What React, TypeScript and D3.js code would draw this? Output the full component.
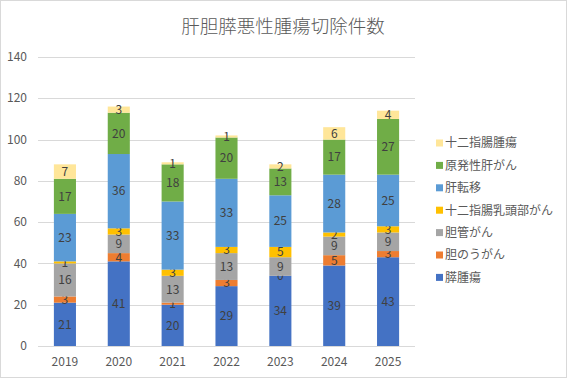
import React from 'react';
import * as d3 from 'd3';

const years = ['2019', '2020', '2021', '2022', '2023', '2024', '2025'];

// stacked bottom to top
const seriesNames = ['膵腫瘍', '胆のうがん', '胆管がん', '十二指腸乳頭部がん', '肝転移', '原発性肝がん', '十二指腸腫瘍'];
const seriesColors = ['#4472C4', '#ED7D31', '#A5A5A5', '#FFC000', '#5B9BD5', '#70AD47', '#FFE699'];

const pancreas = [21, 41, 20, 29, 34, 39, 43];
const gallbladder = [3, 4, 1, 3, 0, 5, 3];
const bileDuct = [16, 9, 13, 13, 9, 9, 9];
const papilla = [1, 3, 3, 3, 5, 2, 3];
const liverMeta = [23, 36, 33, 33, 25, 28, 25];
const primaryLiver = [17, 20, 18, 20, 13, 17, 27];
const duodenal = [7, 3, 1, 1, 2, 6, 4];

const yTicks = [0, 20, 40, 60, 80, 100, 120, 140];

const W = 567;
const H = 378;
const FONT = "'Noto Sans CJK JP', 'Noto Sans', sans-serif";

export default function App() {
  const seriesValues = [pancreas, gallbladder, bileDuct, papilla, liverMeta, primaryLiver, duodenal];

  const rows = years.map((yr, i) => {
    const r: any = { year: yr };
    seriesNames.forEach((s, k) => { r[s] = seriesValues[k][i]; });
    return r;
  });

  const stacked = d3.stack().keys(seriesNames)(rows);

  const x = d3.scaleBand().domain(years).range([38, 415]).paddingInner(0.59).paddingOuter(0.295);
  const y = d3.scaleLinear().domain([0, 140]).range([346, 57]);

  const legendOrder = [...seriesNames].reverse();

  return (
    <svg width={W} height={H} style={{ position: 'absolute', left: 0, top: 0 }} fontFamily={FONT}>
      <rect x={0.5} y={0.5} width={W - 1} height={H - 1} fill="#fff" stroke="#D9D9D9" />
      <text x={283} y={33} textAnchor="middle" fontSize={18.5} fill="#595959" fontWeight={300}>
        肝胆膵悪性腫瘍切除件数
      </text>

      {yTicks.map(t => (
        <g key={t}>
          <line x1={38} x2={415} y1={Math.round(y(t)) + 0.5} y2={Math.round(y(t)) + 0.5} stroke="#D9D9D9" />
          <text x={27} y={y(t)} dy="0.35em" textAnchor="end" fontSize={12} fill="#595959">{t}</text>
        </g>
      ))}

      {stacked.map((layer, k) => (
        <g key={seriesNames[k]}>
          {layer.map((d, i) => {
            const x0 = x(years[i]) as number;
            const top = y(d[1]);
            const bot = y(d[0]);
            const mid = (top + bot) / 2;
            return (
              <g key={years[i]}>
                <rect x={x0} y={top} width={x.bandwidth()} height={bot - top} fill={seriesColors[k]} />
                <text x={x0 + x.bandwidth() / 2} y={mid} dy="0.36em" textAnchor="middle" fontSize={12} fill="#404040">
                  {d[1] - d[0]}
                </text>
              </g>
            );
          })}
        </g>
      ))}

      {years.map(yr => (
        <text key={yr} x={(x(yr) as number) + x.bandwidth() / 2} y={362} dy="0.35em" textAnchor="middle" fontSize={12} fill="#595959">
          {yr}
        </text>
      ))}

      {legendOrder.map((name, i) => {
        const k = seriesNames.indexOf(name);
        const cy = 143 + i * 22.4;
        return (
          <g key={name}>
            <rect x={436} y={cy - 3.5} width={7} height={7} fill={seriesColors[k]} />
            <text x={445} y={cy} dy="0.36em" fontSize={12} fill="#595959">{name}</text>
          </g>
        );
      })}
    </svg>
  );
}
